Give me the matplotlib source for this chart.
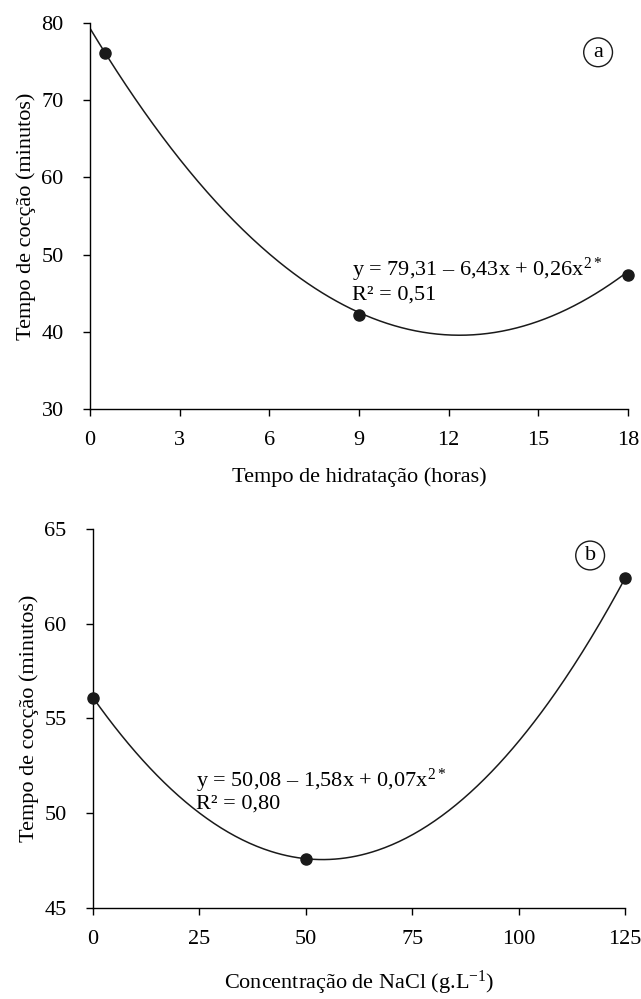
import numpy as np
import matplotlib
matplotlib.use("Agg")
import matplotlib.pyplot as plt

plt.rcParams['font.family'] = ['Liberation Serif', 'DejaVu Serif']
plt.rcParams['mathtext.fontset'] = 'custom'
plt.rcParams['mathtext.rm'] = 'Liberation Serif'
plt.rcParams['mathtext.it'] = 'Liberation Serif:italic'

# Panel a data
hidratacao_h = [0.5, 9, 18]
tempo_a = [76.1, 42.2, 47.4]
coef_a = [79.31, -6.43, 0.26]          # y = a + b x + c x^2 (as printed)
xticks_a = [0, 3, 6, 9, 12, 15, 18]
yticks_a = [30, 40, 50, 60, 70, 80]

# Panel b data
nacl = [0, 50, 125]
tempo_b = [56.1, 47.6, 62.4]
xticks_b = [0, 25, 50, 75, 100, 125]
yticks_b = [45, 50, 55, 60, 65]

eq_a = r'y = 79,31 – 6,43x + 0,26x$^{\mathrm{2*}}$'
r2_a = 'R² = 0,51'
eq_b = r'y = 50,08 – 1,58x + 0,07x$^{\mathrm{2*}}$'
r2_b = 'R² = 0,80'

FS = 16
fig = plt.figure(figsize=(6.41, 9.99), dpi=100)
ax1 = fig.add_axes([0.1404, 0.5906, 0.8393, 0.3864])
ax2 = fig.add_axes([0.1451, 0.0911, 0.8300, 0.3794])

def style(ax):
    for s in ['top', 'right']:
        ax.spines[s].set_visible(False)
    for s in ['left', 'bottom']:
        ax.spines[s].set_linewidth(1.0)
    ax.tick_params(direction='out', length=5, width=1.0, labelsize=FS)
    ax.tick_params(axis='x', pad=11)
    ax.tick_params(axis='y', pad=14)

# Panel a
xa = np.linspace(0, 18, 300)
ya = coef_a[0] + coef_a[1] * xa + coef_a[2] * xa ** 2
ax1.plot(xa, ya, color='#1a1a1a', lw=1.1)
ax1.plot(hidratacao_h, tempo_a, 'o', color='#1a1a1a', ms=8, clip_on=False, zorder=3)
ax1.set_xlim(0, 18)
ax1.set_ylim(30, 80)
ax1.set_xticks(xticks_a)
ax1.set_yticks(yticks_a)
style(ax1)
ax1.set_xlabel('Tempo de hidratação (horas)', fontsize=FS, labelpad=12)
ax1.set_ylabel('Tempo de cocção (minutos)', fontsize=FS, labelpad=4)
ax1.text(8.75, 48.0, eq_a, fontsize=FS, va='center', ha='left')
ax1.text(8.75, 44.8, r2_a, fontsize=FS, va='center', ha='left')
ax1.text(17.0, 76.2, 'a', fontsize=FS, ha='center', va='center',
         bbox=dict(boxstyle='circle,pad=0.22', fc='white', ec='#1a1a1a', lw=1.0))

# Panel b
cb = np.polyfit(nacl, tempo_b, 2)
xb = np.linspace(0, 125, 300)
yb = np.polyval(cb, xb)
ax2.plot(xb, yb, color='#1a1a1a', lw=1.1)
ax2.plot(nacl, tempo_b, 'o', color='#1a1a1a', ms=8, clip_on=False, zorder=3)
ax2.set_xlim(0, 125)
ax2.set_ylim(45, 65)
ax2.set_xticks(xticks_b)
ax2.set_yticks(yticks_b)
style(ax2)
ax2.set_xlabel('Concentração de NaCl (g.L$^{\\mathrm{-1}}$)', fontsize=FS, labelpad=14)
ax2.set_ylabel('Tempo de cocção (minutos)', fontsize=FS, labelpad=4)
ax2.text(24.2, 51.7, eq_b, fontsize=FS, va='center', ha='left')
ax2.text(24.2, 50.5, r2_b, fontsize=FS, va='center', ha='left')
ax2.text(116.8, 63.6, 'b', fontsize=FS, ha='center', va='center',
         bbox=dict(boxstyle='circle,pad=0.22', fc='white', ec='#1a1a1a', lw=1.0))

fig.savefig('out.png', dpi=100)
